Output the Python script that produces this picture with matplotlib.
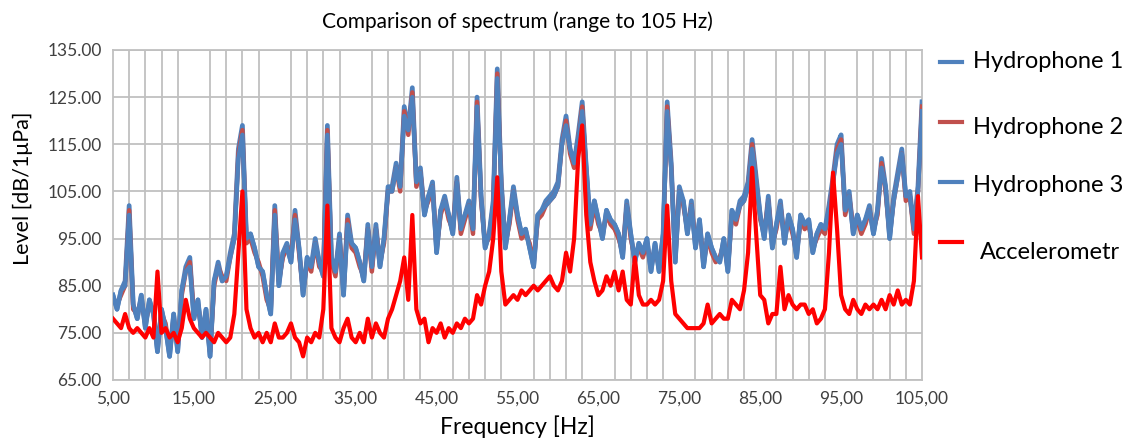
"""Comparison of spectrum up to 105 Hz: three hydrophones and an accelerometer."""

import numpy as np
import matplotlib
matplotlib.use("Agg")
import matplotlib.pyplot as plt
from matplotlib.lines import Line2D
from matplotlib.ticker import FixedLocator, FuncFormatter

plt.rcParams["font.family"] = ["Lato", "DejaVu Sans"]

# ── Data (levels in dB re 1 µPa, one value every 0.5 Hz from 5 to 105 Hz) ──
FREQ_HZ = np.linspace(5.0, 105.0, 201)

HYDROPHONE_1 = [
    83, 80, 84, 86, 102, 81, 78, 83, 76, 82,
    79, 71, 80, 76, 70, 79, 71, 84, 89, 91,
    78, 82, 74, 80, 70, 86, 90, 86, 87, 92,
    96, 114, 119, 95, 96, 93, 89, 88, 83, 79,
    102, 85, 92, 94, 90, 101, 93, 83, 91, 89,
    95, 90, 87, 119, 91, 88, 96, 83, 100, 94,
    93, 90, 86, 98, 89, 98, 89, 95, 106, 106,
    111, 106, 123, 118, 127, 107, 110, 100, 104, 107,
    92, 101, 104, 100, 96, 108, 97, 100, 103, 97,
    125, 104, 93, 96, 103, 131, 107, 93, 99, 106,
    100, 96, 97, 93, 89, 100, 101, 103, 104, 105,
    107, 116, 121, 114, 111, 117, 124, 110, 98, 103,
    99, 95, 101, 99, 98, 96, 91, 103, 96, 90,
    94, 92, 95, 88, 94, 88, 96, 124, 111, 90,
    106, 103, 96, 103, 93, 99, 89, 96, 93, 91,
    90, 95, 88, 101, 99, 103, 104, 107, 116, 108,
    100, 95, 104, 93, 98, 103, 94, 100, 97, 91,
    100, 98, 99, 92, 96, 98, 97, 102, 108, 115,
    117, 101, 105, 96, 100, 97, 99, 102, 96, 101,
    112, 106, 95, 104, 109, 114, 104, 105, 97, 106,
    124,
]

HYDROPHONE_2 = [
    82, 81, 83, 85, 101, 80, 79, 82, 77, 81,
    80, 72, 79, 77, 71, 78, 72, 83, 88, 90,
    79, 81, 75, 79, 71, 85, 89, 87, 86, 91,
    95, 113, 118, 94, 95, 92, 90, 87, 82, 80,
    101, 86, 91, 93, 91, 100, 92, 84, 90, 88,
    94, 89, 88, 118, 90, 87, 95, 84, 99, 93,
    92, 89, 87, 97, 88, 97, 90, 94, 105, 105,
    110, 105, 122, 117, 126, 106, 109, 101, 103, 106,
    93, 100, 103, 99, 97, 107, 96, 99, 102, 96,
    124, 103, 94, 95, 102, 130, 106, 94, 98, 105,
    99, 95, 96, 94, 90, 99, 100, 102, 103, 104,
    106, 115, 120, 113, 110, 116, 123, 109, 97, 102,
    98, 96, 100, 98, 97, 95, 92, 102, 95, 91,
    93, 91, 94, 89, 93, 89, 95, 123, 110, 91,
    105, 102, 97, 102, 94, 98, 90, 95, 92, 90,
    91, 94, 89, 100, 98, 102, 103, 106, 115, 107,
    99, 96, 103, 94, 97, 102, 95, 99, 96, 92,
    99, 97, 98, 93, 95, 97, 96, 101, 107, 114,
    116, 100, 104, 97, 99, 96, 98, 101, 97, 100,
    111, 105, 96, 103, 108, 113, 103, 104, 96, 105,
    123,
]

HYDROPHONE_3 = [
    83, 80, 84, 85, 100, 81, 78, 83, 76, 82,
    79, 71, 80, 76, 70, 79, 71, 84, 88, 89,
    78, 82, 74, 80, 70, 86, 89, 86, 87, 91,
    95, 112, 117, 95, 96, 93, 89, 88, 83, 79,
    100, 85, 92, 93, 90, 99, 93, 83, 91, 89,
    94, 90, 87, 117, 91, 88, 95, 83, 98, 94,
    93, 90, 86, 97, 89, 97, 89, 95, 105, 105,
    110, 106, 121, 118, 125, 107, 109, 100, 104, 106,
    92, 101, 103, 100, 96, 107, 97, 100, 102, 97,
    123, 104, 93, 96, 102, 129, 106, 93, 99, 105,
    100, 96, 97, 93, 89, 100, 101, 102, 103, 104,
    106, 115, 119, 114, 111, 116, 122, 110, 98, 103,
    99, 95, 101, 99, 98, 96, 91, 102, 96, 90,
    94, 92, 95, 88, 94, 88, 96, 122, 110, 90,
    105, 103, 96, 102, 93, 99, 89, 96, 93, 91,
    90, 95, 88, 101, 99, 102, 103, 106, 114, 107,
    100, 95, 103, 93, 98, 102, 94, 100, 97, 91,
    100, 98, 99, 92, 96, 98, 97, 101, 107, 113,
    115, 101, 104, 96, 100, 97, 99, 101, 96, 101,
    110, 106, 95, 103, 108, 113, 104, 104, 97, 105,
    122,
]

ACCELEROMETR = [
    78, 77, 76, 79, 76, 75, 76, 75, 74, 76,
    74, 88, 75, 76, 74, 75, 73, 76, 82, 78,
    76, 75, 74, 75, 74, 73, 75, 74, 73, 74,
    79, 92, 105, 80, 76, 74, 75, 73, 75, 73,
    77, 74, 74, 75, 77, 74, 73, 70, 74, 73,
    75, 74, 80, 102, 76, 74, 73, 76, 78, 74,
    73, 75, 73, 78, 74, 77, 75, 74, 78, 80,
    83, 86, 91, 82, 100, 80, 77, 78, 73, 76,
    75, 77, 74, 76, 75, 77, 76, 78, 77, 78,
    83, 81, 85, 88, 95, 108, 88, 81, 82, 83,
    82, 84, 83, 84, 85, 84, 85, 86, 87, 85,
    84, 86, 92, 88, 95, 112, 119, 100, 90, 86,
    83, 84, 87, 85, 88, 84, 88, 82, 81, 91,
    83, 81, 81, 82, 81, 82, 86, 102, 86, 79,
    78, 77, 76, 76, 76, 76, 77, 81, 77, 78,
    79, 78, 78, 82, 81, 80, 84, 92, 110, 96,
    83, 82, 77, 79, 79, 89, 80, 83, 81, 80,
    81, 81, 79, 80, 77, 78, 80, 92, 109, 97,
    83, 80, 79, 82, 80, 79, 81, 80, 81, 80,
    82, 80, 83, 81, 84, 81, 82, 81, 86, 104,
    91,
]

SERIES_NAMES = ["Hydrophone 1", "Hydrophone 2", "Hydrophone 3", "Accelerometr"]
X_LABEL_TICKS = [5, 15, 25, 35, 45, 55, 65, 75, 85, 95, 105]
X_GRID_TICKS = list(range(5, 106, 2))
Y_TICKS = [65, 75, 85, 95, 105, 115, 125, 135]

# ── Styling ────────────────────────────────────────────────────────────
COLORS = ["#4F81BD", "#C0504D", "#4F81BD", "#FF0000"]
WIDTHS = [3.4, 3.2, 3.2, 3.0]
GRID = "#C0C0C0"
TICK_TEXT = "#404040"

fig = plt.figure(figsize=(11.32, 4.40), dpi=100)
ax = fig.add_axes([0.0998, 0.1364, 0.7147, 0.75])

for name, values, color, lw in zip(SERIES_NAMES,
                                   [HYDROPHONE_1, HYDROPHONE_2, HYDROPHONE_3, ACCELEROMETR],
                                   COLORS, WIDTHS):
    ax.plot(FREQ_HZ, values, color=color, linewidth=lw, label=name,
            solid_joinstyle="round", zorder=3)

ax.set_xlim(5, 105)
ax.set_ylim(65, 135)

ax.xaxis.set_major_locator(FixedLocator(X_LABEL_TICKS))
ax.xaxis.set_minor_locator(FixedLocator(X_GRID_TICKS))
ax.xaxis.set_major_formatter(FuncFormatter(lambda v, p: f"{v:.2f}".replace(".", ",")))
ax.yaxis.set_major_locator(FixedLocator(Y_TICKS))
ax.yaxis.set_major_formatter(FuncFormatter(lambda v, p: f"{v:.2f}"))

ax.grid(which="minor", axis="x", color=GRID, linewidth=1.3)
ax.grid(which="major", axis="y", color=GRID, linewidth=1.3)
ax.set_axisbelow(True)
ax.tick_params(which="both", length=0, labelsize=12.5, colors=TICK_TEXT, pad=8)

for spine in ax.spines.values():
    spine.set_color(GRID)
    spine.set_linewidth(1.3)

ax.set_title("Comparison of spectrum (range to 105 Hz)", fontsize=15, y=1.04)
ax.set_xlabel("Frequency [Hz]", fontsize=16.5)
ax.set_ylabel("Level [dB/1\u03bcPa]", fontsize=15.5)
ax.xaxis.set_label_coords(0.5, -0.108)
ax.yaxis.set_label_coords(-0.099, 0.58)

# ── Legend drawn to the right of the plot area, Excel style ────────────
W, H = 1132.0, 440.0
line_y = [62, 122, 182, 242]
text_y = [62, 127, 185, 252]
text_x = [973, 973, 973, 980]
for name, color, ly, ty, tx in zip(SERIES_NAMES, COLORS, line_y, text_y, text_x):
    fig.add_artist(Line2D([940 / W, 962 / W], [1 - ly / H, 1 - ly / H],
                          color=color, linewidth=3.0, transform=fig.transFigure))
    fig.text(tx / W, 1 - ty / H, name, fontsize=17, va="center", ha="left")

fig.savefig("out.png", dpi=100)
